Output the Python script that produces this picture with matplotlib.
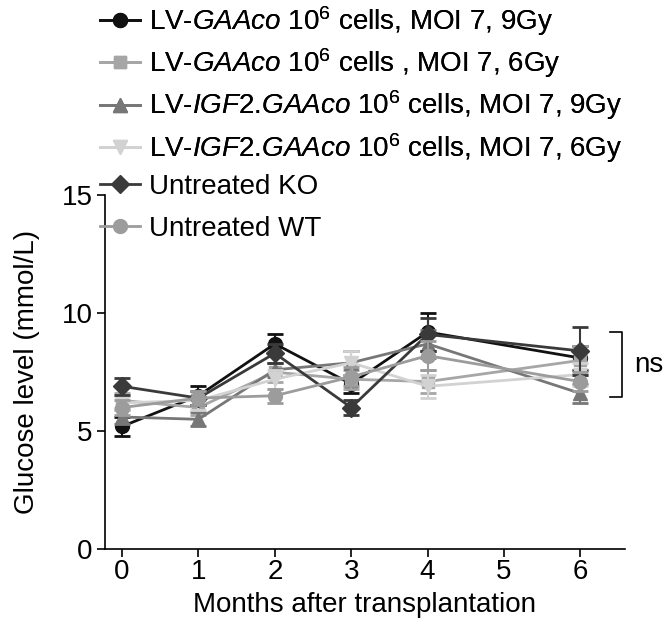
import matplotlib
matplotlib.use("Agg")
import matplotlib.pyplot as plt

plt.rcParams['font.family'] = ['Liberation Sans', 'DejaVu Sans']
plt.rcParams['mathtext.fontset'] = 'custom'
plt.rcParams['mathtext.rm'] = 'Liberation Sans'
plt.rcParams['mathtext.it'] = 'Liberation Sans:italic'

# data
months = [0, 1, 2, 3, 4, 6]

gaa_9gy = [5.2, 6.5, 8.7, 7.0, 9.2, 8.1]
gaa_9gy_err = [0.4, 0.4, 0.4, 0.4, 0.8, 0.5]
gaa_6gy = [6.3, 6.0, 7.5, 7.2, 7.1, 8.0]
gaa_6gy_err = [0.3, 0.3, 0.4, 0.4, 0.5, 0.6]
igf_9gy = [5.6, 5.5, 7.6, 7.9, 8.7, 6.6]
igf_9gy_err = [0.3, 0.3, 0.3, 0.5, 0.6, 0.4]
igf_6gy = [6.2, 6.3, 7.2, 7.9, 6.9, 7.4]
igf_6gy_err = [0.3, 0.4, 0.4, 0.5, 0.5, 0.5]
ko = [6.9, 6.4, 8.3, 6.0, 9.1, 8.4]
ko_err = [0.35, 0.3, 0.4, 0.3, 0.7, 1.0]
wt = [6.0, 6.4, 6.5, 7.3, 8.2, 7.1]
wt_err = [0.3, 0.3, 0.3, 0.4, 0.6, 0.4]

labels = [
    r'LV-$\it{GAAco}$ 10$^6$ cells, MOI 7, 9Gy',
    r'LV-$\it{GAAco}$ 10$^6$ cells , MOI 7, 6Gy',
    r'LV-$\it{IGF2}$.$\it{GAAco}$ 10$^6$ cells, MOI 7, 9Gy',
    r'LV-$\it{IGF2}$.$\it{GAAco}$ 10$^6$ cells, MOI 7, 6Gy',
    'Untreated KO',
    'Untreated WT',
]

series = [
    (gaa_9gy, gaa_9gy_err, '#111111', 'o', 10),
    (gaa_6gy, gaa_6gy_err, '#a6a6a6', 's', 9),
    (igf_9gy, igf_9gy_err, '#777777', '^', 10),
    (igf_6gy, igf_6gy_err, '#d2d2d2', 'v', 10),
    (ko, ko_err, '#3a3a3a', 'D', 9),
    (wt, wt_err, '#9c9c9c', 'o', 10),
]

FS = 20

fig = plt.figure(figsize=(6.66, 6.34), dpi=100)
ax = fig.add_axes([0.158, 0.134, 0.78, 0.558])

handles = []
for (vals, errs, col, mk, ms), lab in zip(series, labels):
    ax.errorbar(months, vals, yerr=errs, fmt='none', ecolor=col,
                elinewidth=1.5, capsize=6, capthick=2)
    h, = ax.plot(months, vals, color=col, marker=mk, markersize=ms,
                 linewidth=2, label=lab)
    handles.append(h)

ax.set_xlim(-0.22, 6.58)
ax.set_ylim(0, 15)
ax.set_xticks([0, 1, 2, 3, 4, 5, 6])
ax.set_yticks([0, 5, 10, 15])
ax.tick_params(labelsize=FS, width=1.2, length=6, direction='out', pad=3)
ax.tick_params(axis='x', pad=1)
for s in ['top', 'right']:
    ax.spines[s].set_visible(False)
for s in ['left', 'bottom']:
    ax.spines[s].set_linewidth(1.2)

ax.set_xlabel('Months after transplantation', fontsize=FS, labelpad=5)
ax.set_ylabel('Glucose level (mmol/L)', fontsize=FS, labelpad=16)

# significance bracket
ax.plot([6.39, 6.54, 6.54, 6.39], [9.2, 9.2, 6.45, 6.45], color='black',
        linewidth=1.2, clip_on=False)
ax.text(6.70, 7.8, 'ns', fontsize=FS, va='center', ha='left')

# legend in two blocks so the rows keep an even spacing
leg_opts = dict(loc='upper left', frameon=False, fontsize=FS,
                handlelength=1.45, handletextpad=0.3, borderpad=0,
                borderaxespad=0)
leg1 = fig.legend(handles=handles[:4], bbox_to_anchor=(0.150, 0.994),
                  labelspacing=0.31, **leg_opts)
fig.add_artist(leg1)
fig.legend(handles=handles[4:], bbox_to_anchor=(0.150, 0.726),
           labelspacing=0.58, **leg_opts)

fig.savefig('out.png', dpi=100)
